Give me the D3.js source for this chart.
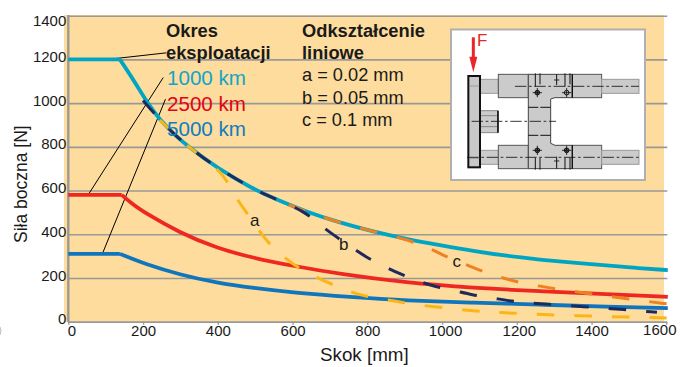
<!DOCTYPE html>
<html><head><meta charset="utf-8">
<script src="https://cdn.jsdelivr.net/npm/d3@7"></script>
<style>html,body{margin:0;background:#fff;overflow:hidden}svg{display:block}text{font-family:"Liberation Sans",Arial,sans-serif;fill:#1a1a1a}</style>
</head><body><svg id="c" width="691" height="367"></svg>
<script>
// ---------- data ----------
const xTicks=[0,200,400,600,800,1000,1200,1400,1600];
const yTicks=[0,200,400,600,800,1000,1200,1400];
const plateauEnd=138;
const km1000=[[138,1200],[175,1105],[210,1005],[245,923],[285,855],[325,795],[398,703],[500,602],[548,566],[638,502],[727,453],[816,412],[905,378],[994,350],[1084,323],[1173,301],[1262,284],[1351,270],[1441,257],[1520,246],[1604,236]];
const km2500=[[143,580],[170,540],[200,503],[299,406],[397,337],[496,291],[602,255],[727,218],[905,178],[1084,155],[1262,139],[1441,126],[1604,114]];
const km5000=[[138,310],[165,292],[200,268],[299,214],[397,178],[496,154],[602,133],[754,113],[905,97],[1084,87],[1262,78],[1441,69],[1604,62]];
const limitA=[[245,923],[285,855],[325,795],[398,703],[424,648],[455,549],[482,488],[512,412],[540,351],[580,291],[616,245],[665,201],[710,168],[759,133],[803,114],[857,99],[903,85],[957,72],[1102,46],[1173,40],[1351,27],[1601,17]];
const limitB=[[200,1012],[245,923],[285,855],[325,795],[398,703],[500,602],[548,566],[633,505],[679,435],[714,392],[759,339],[799,293],[846,252],[888,218],[936,186],[982,160],[1035,142],[1080,122],[1133,110],[1178,95],[1231,87],[1276,80],[1378,69],[1476,57],[1575,43]];
const limitC=[[590,535],[638,502],[727,453],[816,412],[905,378],[973,331],[1017,293],[1067,259],[1110,229],[1160,201],[1205,180],[1258,163],[1303,151],[1357,137],[1402,127],[1455,114],[1499,104],[1553,92],[1601,82]];
const plateaus=[[1200,"#00a5c4"],[580,"#ee2722"],[310,"#0f75bc"]];
const legendKm=["1000 km","2500 km","5000 km"];
const legendKmColors=["#12a5c8","#e2001a","#0f7dc2"];
const deformation=["a = 0.02 mm","b = 0.05 mm","c = 0.1 mm"];
const leaders=[[[105,1200],[262,1230]],[[53,580],[254,1117]],[[91,310],[260,1018]]];

// ---------- scales ----------
const x=d3.scaleLinear().domain([0,1600]).range([68.3,666.3]);
const y=d3.scaleLinear().domain([0,1400]).range([321.7,15.7]);
const svg=d3.select("#c");
svg.append("rect").attr("x",64).attr("y",15).attr("width",600).attr("height",307).attr("fill","#fddc9d");

// ---------- axes ----------
const gy=svg.append("g").attr("transform","translate(68.3,0)")
  .call(d3.axisLeft(y).tickValues(yTicks).tickFormat(d3.format("d")).tickSizeInner(-599).tickSizeOuter(0).tickPadding(2));
gy.select(".domain").remove();
gy.selectAll("line").attr("stroke","#999").attr("stroke-width",1.6);
gy.selectAll("text").attr("font-size",15).attr("x",-2).attr("dy",d=>d===1400?"0.62em":"0.14em").style("fill","#1a1a1a");
const xLabelShift=[3,0,0,0,0,3,2,0,-7];
const gx=svg.append("g").attr("transform","translate(0,321.7)")
  .call(d3.axisBottom(x).tickValues(xTicks).tickFormat(d3.format("d")).tickSize(3).tickSizeOuter(0));
gx.select(".domain").attr("stroke","#999").attr("stroke-width",1.6);
gx.selectAll("line").attr("stroke","#999").attr("stroke-width",1.4);
gx.selectAll("text").attr("font-size",15).attr("y",4).attr("x",(d,i)=>xLabelShift[i]).attr("dy",d=>d===1600?"0.62em":"0.71em").style("fill","#1a1a1a");
svg.append("line").attr("x1",68.3).attr("x2",68.3).attr("y1",15).attr("y2",322).attr("stroke","#999").attr("stroke-width",2.4);

// ---------- leaders ----------
leaders.forEach(l=>svg.append("line").attr("x1",x(l[0][0])).attr("y1",y(l[0][1])).attr("x2",x(l[1][0])).attr("y2",y(l[1][1])).attr("stroke","#000").attr("stroke-width",1));

// ---------- curves ----------
const line=d3.line().x(d=>x(d[0])).y(d=>y(d[1])).curve(d3.curveBasis);
const solid=[[km5000,"#0f75bc"],[km2500,"#ee2722"],[km1000,"#00a5c4"]];
solid.forEach(([s,c])=>svg.append("path").attr("d",line(s)).attr("fill","none").attr("stroke",c).attr("stroke-width",3.8));
plateaus.forEach(([v,c])=>svg.append("line").attr("x1",x(0)).attr("x2",x(plateauEnd+(v===580?5:0))).attr("y1",y(v)).attr("y2",y(v)).attr("stroke",c).attr("stroke-width",3.8));
const dashed=[[limitA,"#fbb616"],[limitC,"#ee8121"],[limitB,"#1f2a5c"]];
dashed.forEach(([s,c])=>svg.append("path").attr("d",line(s)).attr("fill","none").attr("stroke",c).attr("stroke-width",3).attr("stroke-dasharray","17.5 20"));

// ---------- texts ----------
const T=(t,px,py,fs,o={})=>{const e=svg.append("text").text(t).attr("x",px).attr("y",py).attr("font-size",fs);
 if(o.b)e.attr("font-weight","bold");if(o.c)e.style("fill",o.c);if(o.r)e.attr("transform",`rotate(-90 ${px} ${py})`);return e;};
T("Okres",166,36.7,18.3,{b:1});T("eksploatacji",166,58.7,18.3,{b:1});
legendKm.forEach((t,i)=>T(t,167,[85,111,136][i],20.6,{c:legendKmColors[i]}));
T("Odkształcenie",302,36.7,18.3,{b:1});T("liniowe",302,58.7,18.3,{b:1});
deformation.forEach((t,i)=>T(t,302,[81,104,126][i],18.2));
T("a",250,225.7,17);T("b",339,250,17);T("c",452.5,267,17);
T("Skok [mm]",320,361,18.8);T("Siła boczna [N]",27,243,17.5,{r:1});
svg.append("path").attr("d","M0,327Q2,331 0,335").attr("fill","none").attr("stroke","#bbb").attr("stroke-width",1);

// ---------- inset (local drawing) ----------
svg.append("rect").attr("x",451).attr("y",29.5).attr("width",194).attr("height",150.5).attr("fill","#fff").attr("stroke","#b0b0b0").attr("stroke-width",2);
const g=svg.append("g").attr("transform","translate(450,25) scale(0.3333)");
const R=(a,b,c,d,f="#cbcbcb",s="#555",w=3)=>g.append("rect").attr("x",a).attr("y",b).attr("width",c-a).attr("height",d-b).attr("fill",f).attr("stroke",s).attr("stroke-width",w);
const L=(a,b,c,d,w=3,da=null,s="#111")=>{const e=g.append("line").attr("x1",a).attr("y1",b).attr("x2",c).attr("y2",d).attr("stroke",s).attr("stroke-width",w);if(da)e.attr("stroke-dasharray",da);};
R(90,163,145,205,"#cbcbcb","#999");R(90,376,145,418,"#cbcbcb","#999");
R(90,257,143,323,"#cbcbcb","#888");L(90,272,143,272,3,null,"#888");L(90,305,143,305,3,null,"#888");L(144,257,144,323,5);
R(145,148,235,218);R(145,361,235,431);R(367,148,455,218);R(367,361,455,431);
R(455,163,567,205,"#cbcbcb","#999");R(455,376,567,418,"#cbcbcb","#999");
g.append("path").attr("d","M235,148H367V218H315L302,222V355L315,361H367V431H235Z").attr("fill","#cbcbcb").attr("stroke","#444").attr("stroke-width",3);
R(55,153,90,427,"#c8c8c8","#111",6);L(58,183,88,183,2,null,"#888");L(58,400,88,400,2,null,"#888");
L(235,247,302,247,3,"30 6 31");L(235,331,302,331,3,"30 6 31");
L(367,148,367,218,4);L(367,361,367,431,4);
[[262,203],[350,203],[262,376],[350,376]].forEach(([a,b])=>{const light=a>300&&b<300;g.append("circle").attr("cx",a).attr("cy",b).attr("r",7).attr("fill",light?"#cbcbcb":"#555").attr("stroke","#111").attr("stroke-width",3);L(a-14,b,a+14,b,2.5);L(a,b-14,a,b+14,2.5);});
[[256,145,256,185],[270,145,270,178],[345,145,345,185],[360,145,360,178],[256,398,256,434],[270,398,270,434],[345,398,345,434],[360,398,360,434]].forEach(d=>L(...d,3));
L(312,165,328,165,2.5);L(320,148,320,180,3);L(312,408,328,408,2.5);L(320,395,320,431,3);
L(195,184,567,184,2.5,"34 8 8 8");L(65,289,318,289,2.5,"34 8 8 8");L(52,397,567,397,2.5,"34 8 8 8");
L(70,37,70,97,9,null,"#e8262a");
g.append("path").attr("d",d3.line()([[58,95],[82,95],[70,142]])+"Z").attr("fill","#e8262a");
T("F",477,45.5,17,{c:"#e8262a"});
</script></body></html>
